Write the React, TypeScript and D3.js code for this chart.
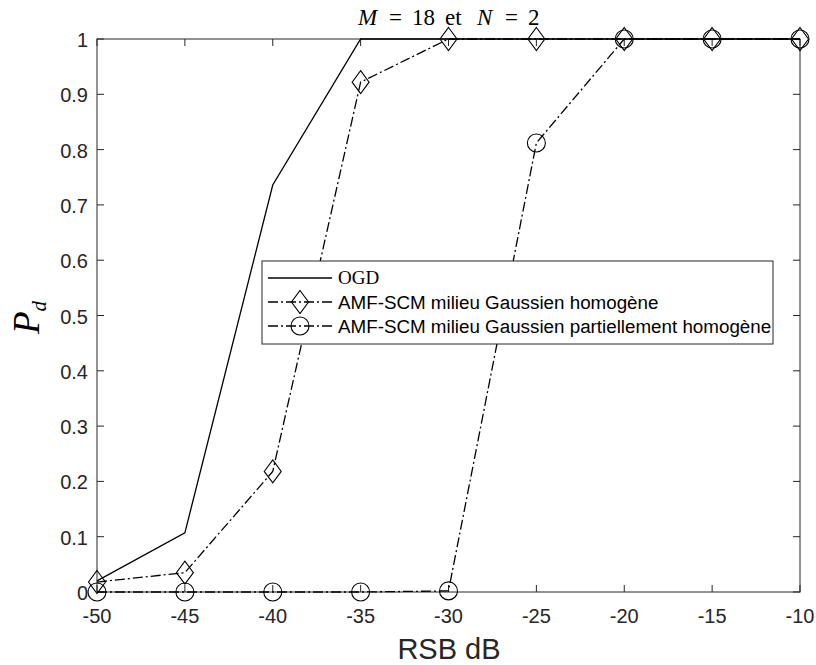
import React from "react";
import * as d3 from "d3";

const snr = [-50, -45, -40, -35, -30, -25, -20, -15, -10];
const ogd = [0.02, 0.107, 0.736, 1, 1, 1, 1, 1, 1];
const amfHom = [0.018, 0.035, 0.218, 0.922, 1, 1, 1, 1, 1];
const amfPart = [0, 0, 0, 0, 0.002, 0.812, 1, 1, 1];
const xTicks = [-50, -45, -40, -35, -30, -25, -20, -15, -10];
const yTicks = [0, 0.1, 0.2, 0.3, 0.4, 0.5, 0.6, 0.7, 0.8, 0.9, 1];
const legendLabels = ["OGD", "AMF-SCM milieu Gaussien homogène", "AMF-SCM milieu Gaussien partiellement homogène"];
const titleParts = [
  { s: "M", italic: true, x: 358 },
  { s: "=", italic: false, x: 389 },
  { s: "18", italic: false, x: 412 },
  { s: "et", italic: false, x: 445 },
  { s: "N", italic: true, x: 477 },
  { s: "=", italic: false, x: 505 },
  { s: "2", italic: false, x: 528 },
];

const W = 816, H = 665;
const L = 97, R = 800, T = 39, B = 592;
const AX = "#262626";
const SANS = "'Liberation Sans', Arial, Helvetica, sans-serif";
const SERIF = "'Liberation Serif', 'Times New Roman', serif";
const DASHDOT = "10,3,2,3";

function Diamond({ x, y }: { x: number; y: number }) {
  const w = 8.5, h = 11.5;
  return <path d={`M${x},${y - h}L${x + w},${y}L${x},${y + h}L${x - w},${y}Z`} fill="none" stroke="#000" strokeWidth={1.1} />;
}
function Circle({ x, y }: { x: number; y: number }) {
  return <circle cx={x} cy={y} r={9} fill="none" stroke="#000" strokeWidth={1.1} />;
}

export default function App() {
  const x = d3.scaleLinear().domain([-50, -10]).range([L, R]);
  const y = d3.scaleLinear().domain([0, 1]).range([B, T]);
  const line = d3.line<number>().x((_, i) => x(snr[i])).y((v) => y(v));
  const tl = 7;
  const lx = 262, ly = 261, lw = 511, lh = 83;
  const rows = [278, 302, 326];
  const sx0 = 268, sx1 = 332, mx = 300, tx = 338;
  return (
    <svg width={W} height={H} style={{ display: "block", position: "absolute", left: 0, top: 0 }}>
      <rect x={0} y={0} width={W} height={H} fill="#fff" />
      <rect x={L} y={T} width={R - L} height={B - T} fill="#fff" stroke={AX} strokeWidth={1} />
      {xTicks.map((t) => (
        <g key={"xt" + t}>
          <line x1={x(t)} x2={x(t)} y1={B} y2={B - tl} stroke={AX} />
          <line x1={x(t)} x2={x(t)} y1={T} y2={T + tl} stroke={AX} />
          <text x={x(t)} y={B + 31} textAnchor="middle" fontFamily={SANS} fontSize={20} fill={AX}>{t}</text>
        </g>
      ))}
      {yTicks.map((t) => (
        <g key={"yt" + t}>
          <line x1={L} x2={L + tl} y1={y(t)} y2={y(t)} stroke={AX} />
          <line x1={R} x2={R - tl} y1={y(t)} y2={y(t)} stroke={AX} />
          <text x={88} y={y(t) + 8} textAnchor="end" fontFamily={SANS} fontSize={20} fill={AX}>{t}</text>
        </g>
      ))}
      <path d={line(ogd) || ""} fill="none" stroke="#000" strokeWidth={1.3} />
      <path d={line(amfHom) || ""} fill="none" stroke="#000" strokeWidth={1.3} strokeDasharray={DASHDOT} />
      <path d={line(amfPart) || ""} fill="none" stroke="#000" strokeWidth={1.3} strokeDasharray={DASHDOT} />
      {amfHom.map((v, i) => <Diamond key={"d" + i} x={x(snr[i])} y={y(v)} />)}
      {amfPart.map((v, i) => <Circle key={"c" + i} x={x(snr[i])} y={y(v)} />)}
      {titleParts.map((p, i) => (
        <text key={"tt" + i} x={p.x} y={25} fontFamily={SERIF} fontSize={23} fontStyle={p.italic ? "italic" : "normal"} fill="#000">{p.s}</text>
      ))}
      <text x={449} y={659} textAnchor="middle" fontFamily={SANS} fontSize={29} fill={AX}>RSB dB</text>
      <text transform={`translate(39,${(T + B) / 2 + 2}) rotate(-90)`} textAnchor="middle" fontFamily={SERIF} fontSize={37} fontStyle="italic" fill="#000">
        P<tspan fontSize={21} dy={7}>d</tspan>
      </text>
      <rect x={lx} y={ly} width={lw} height={lh} fill="#fff" stroke={AX} strokeWidth={1} />
      <line x1={sx0} x2={sx1} y1={rows[0]} y2={rows[0]} stroke="#000" strokeWidth={1.3} />
      <line x1={sx0} x2={sx1} y1={rows[1]} y2={rows[1]} stroke="#000" strokeWidth={1.3} strokeDasharray={DASHDOT} />
      <line x1={sx0} x2={sx1} y1={rows[2]} y2={rows[2]} stroke="#000" strokeWidth={1.3} strokeDasharray={DASHDOT} />
      <Diamond x={mx} y={rows[1]} />
      <Circle x={mx} y={rows[2]} />
      <text x={tx} y={rows[0] + 6} fontFamily={SERIF} fontSize={19} fill="#000">{legendLabels[0]}</text>
      <text x={tx} y={rows[1] + 7} fontFamily={SANS} fontSize={18.8} fill="#000">{legendLabels[1]}</text>
      <text x={tx} y={rows[2] + 7} fontFamily={SANS} fontSize={18.8} fill="#000">{legendLabels[2]}</text>
    </svg>
  );
}
